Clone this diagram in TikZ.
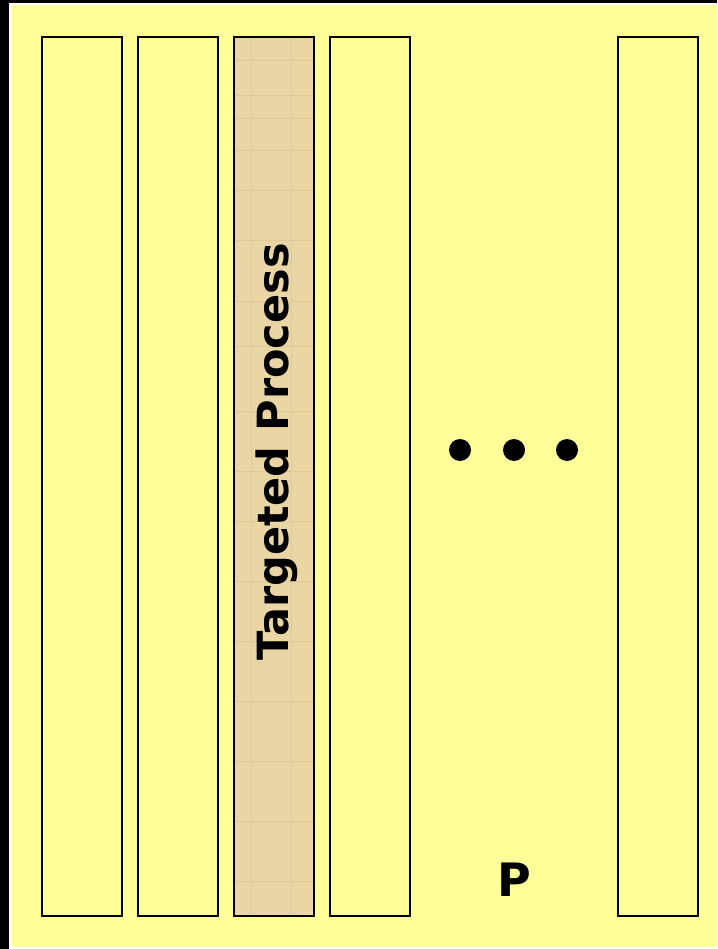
\documentclass[tikz,border=0pt]{standalone}
\usepackage{fontspec}
\setmainfont{DejaVu Sans}
\definecolor{bgyellow}{HTML}{FFFF99}
\definecolor{tan}{HTML}{EAD6A4}
\definecolor{tanline}{HTML}{E0CA94}
\begin{document}
\begin{tikzpicture}[x=1pt,y=-1pt,
  col/.style={draw=black,line width=2pt,fill=bgyellow,minimum width=80pt,minimum height=879pt,anchor=north west},
  textured/.style={fill=tan,path picture={
    \foreach \yy in {24,59,82,114,154,204,264,309,374,434,484,544,604,664,724,784,844}
      \draw[tanline,line width=1pt] ([yshift=-\yy pt]path picture bounding box.north west) -- ([yshift=-\yy pt]path picture bounding box.north east);
    \foreach \xx in {17,57}
      \draw[tanline,line width=0.8pt] ([xshift=\xx pt]path picture bounding box.north west) -- ([xshift=\xx pt]path picture bounding box.south west);
  }},
  dot/.style={circle,fill=black,inner sep=0pt,minimum size=22pt}]
\useasboundingbox (0,0) rectangle (717,949);
\fill[black] (0,0) rectangle (717,949);
\fill[white] (9,3) rectangle (717,949);
\fill[bgyellow] (11,5) rectangle (717,947);
\node[col] (c1) at (41,36) {};
\node[col] (c2) at (137,36) {};
\node[col,textured] (c3) at (233,36) {};
\node[col] (c4) at (329,36) {};
\node[col] (c5) at (617,36) {};
\node[rotate=90,font=\fontsize{43pt}{47pt}\selectfont\bfseries] (t) at (277,452) {Targeted Process};
\node[dot] (d1) at (460,450) {};
\node[dot] (d2) at (514,450) {};
\node[dot] (d3) at (567,450) {};
\node[font=\fontsize{46pt}{50pt}\selectfont\bfseries] (p) at (514,880) {P};
\end{tikzpicture}
\end{document}
